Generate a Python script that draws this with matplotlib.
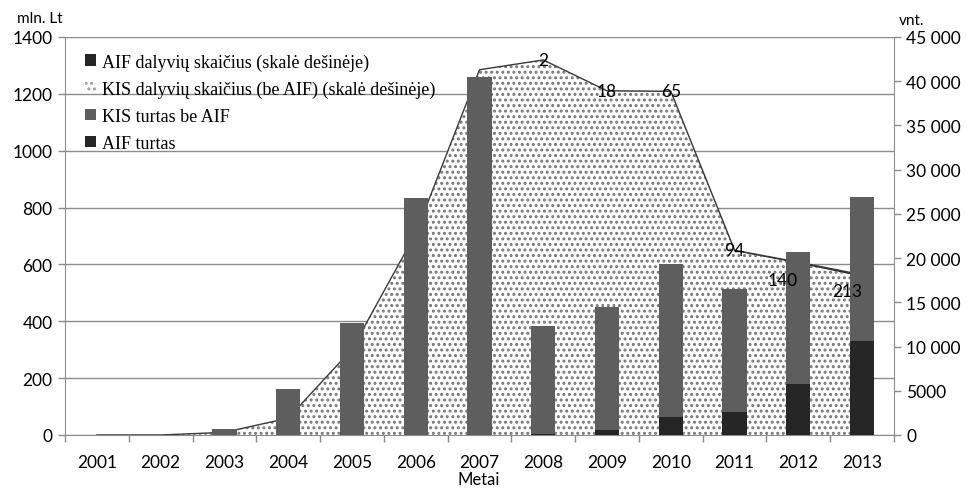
import matplotlib.pyplot as plt
from matplotlib.patches import Patch

plt.rcParams['font.family'] = ['Lato', 'DejaVu Sans']
plt.rcParams['hatch.linewidth'] = 1.4

# duomenys
years = [str(y) for y in range(2001, 2014)]
aif_turtas = [0, 0, 0, 0, 0, 0, 0, 3, 18, 62, 82, 178, 330]
kis_turtas = [1, 1, 20, 162, 395, 832, 1260, 382, 432, 540, 433, 465, 508]
kis_dalyviai = [0, 0, 300, 1900, 9700, 22800, 41300, 42400, 38900, 38800, 20800, 19400, 17900]
aif_dalyviai = [0, 0, 0, 0, 0, 0, 0, 2, 18, 65, 94, 140, 213]

left_ticks = [0, 200, 400, 600, 800, 1000, 1200, 1400]
right_ticks = [0, 5000, 10000, 15000, 20000, 25000, 30000, 35000, 40000, 45000]
right_labels = ['0', '5000', '10 000', '15 000', '20 000', '25 000', '30 000',
                '35 000', '40 000', '45 000']

grid_c = '#8c8c8c'
x = list(range(len(years)))

fig = plt.figure(figsize=(9.69, 4.89), dpi=100)
ax = fig.add_axes([0.0671, 0.1084, 0.8555, 0.8139])
ax2 = ax.twinx()
ax3 = ax.twinx()

# kairė ašis + tinklelis
ax.set_ylim(0, 1400)
ax.set_xlim(-0.5, len(years) - 0.5)
ax.set_yticks(left_ticks)
ax.set_yticklabels([str(t) for t in left_ticks], fontsize=12.5)
for t in left_ticks:
    ax.axhline(t, color=grid_c, lw=1, zorder=0)
ax.set_xticks([i - 0.5 for i in range(len(years) + 1)])
ax.set_xticklabels([])
ax.set_xticks(x, minor=True)
ax.set_xticklabels(years, minor=True, fontsize=12.5)
ax.tick_params(axis='x', which='major', length=5, color=grid_c, width=1)
ax.tick_params(axis='x', which='minor', length=0, pad=14)
ax.tick_params(axis='y', length=5, color=grid_c, width=1, pad=4)
for s in ['top', 'right']:
    ax.spines[s].set_visible(False)
for s in ['left', 'bottom']:
    ax.spines[s].set_color(grid_c)

# dešinė ašis: dalyvių skaičius (plotas)
top = [k + a for k, a in zip(kis_dalyviai, aif_dalyviai)]
ax2.set_ylim(0, 45000)
ax2.fill_between(x, 0, kis_dalyviai, facecolor='white', edgecolor='#777777',
                 hatch='...', linewidth=0)
ax2.fill_between(x, kis_dalyviai, top, facecolor='#262626', linewidth=0)
ax2.plot(x, top, color='#3a3a3a', lw=1)
ax2.set_yticks(right_ticks)
ax2.set_yticklabels(right_labels, fontsize=12.5)
ax2.tick_params(axis='y', length=5, color=grid_c, width=1, pad=4)
for s in ['top', 'left', 'bottom']:
    ax2.spines[s].set_visible(False)
ax2.spines['right'].set_color(grid_c)

# stulpeliai (kairė skalė)
ax3.set_ylim(0, 1400)
ax3.set_axis_off()
w = 0.38
ax3.bar(x, aif_turtas, width=w, color='#262626')
ax3.bar(x, kis_turtas, width=w, bottom=aif_turtas, color='#5e5e5e')

# duomenų žymos
label_dx = [0, 0, 0, 0, 0, 0, 0, 0, 0, 0, 0, -11, -11]
label_dy = [0, 0, 0, 0, 0, 0, 0, 0, 0, 0, 0, -13, -12]
for i, v in enumerate(aif_dalyviai):
    if v > 0:
        ax3.annotate(str(v), xy=(x[i], top[i]), xycoords=ax2.transData,
                     xytext=(label_dx[i], label_dy[i]), textcoords='offset points',
                     ha='center', va='center', fontsize=12.5, color='black')

# legenda
handles = [
    Patch(facecolor='#262626'),
    Patch(facecolor='white', edgecolor='#999999', hatch='...', linewidth=0),
    Patch(facecolor='#5e5e5e'),
    Patch(facecolor='#262626'),
]
labels = ['AIF dalyvių skaičius (skalė dešinėje)',
          'KIS dalyvių skaičius (be AIF) (skalė dešinėje)',
          'KIS turtas be AIF',
          'AIF turtas']
ax3.legend(handles, labels, loc='upper left', bbox_to_anchor=(0.005, 1.0),
           frameon=False, handlelength=0.6, handleheight=0.6, handletextpad=0.3,
           labelspacing=0.55, prop={'family': 'Liberation Serif', 'size': 13})

fig.text(0.041, 0.962, 'mln. Lt', fontsize=11, ha='center', va='center')
fig.text(0.941, 0.958, 'vnt.', fontsize=11, ha='center', va='center')
fig.text(0.494, 0.018, 'Metai', fontsize=12, ha='center', va='center')

fig.savefig('out.png', dpi=100)
